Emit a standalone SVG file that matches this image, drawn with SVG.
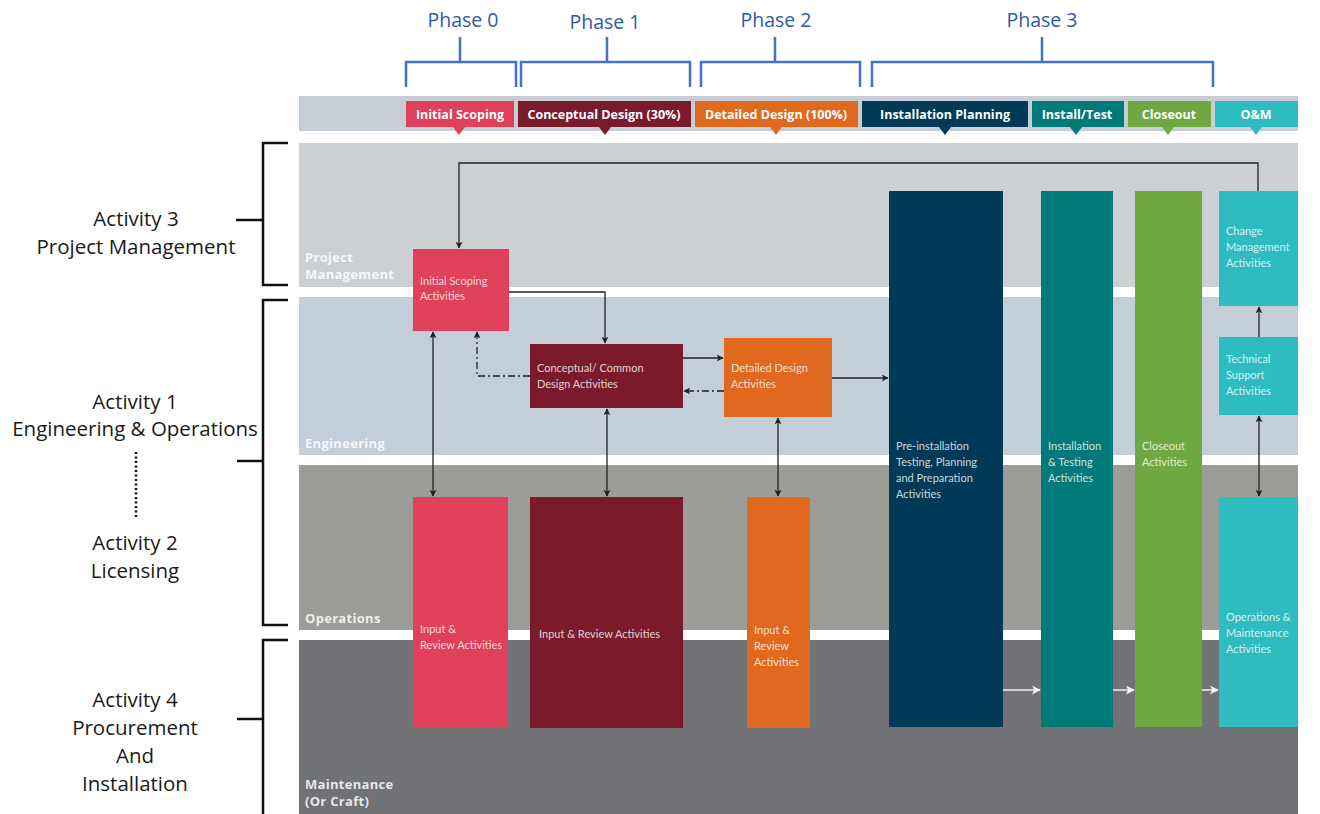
<svg xmlns="http://www.w3.org/2000/svg" width="1320" height="814" viewBox="0 0 1320 814">
<defs>
<style>
.act{font-family:"Open Sans","Liberation Sans",sans-serif;font-size:20.5px;fill:#1a1a1a;text-anchor:middle}
.ph{font-family:"Open Sans","Liberation Sans",sans-serif;font-size:19.5px;fill:#2f5aa8;text-anchor:middle}
.brace{fill:none;stroke:#4472c4;stroke-width:2.5}
.brk{fill:none;stroke:#111;stroke-width:2.5}
.hd{font-family:"Open Sans","Liberation Sans",sans-serif;font-size:12.5px;font-weight:bold;fill:#fff;text-anchor:middle}
.lane{font-family:"Open Sans","Liberation Sans",sans-serif;font-size:13px;font-weight:bold;fill:#fff;fill-opacity:0.85;letter-spacing:0.3px}
.bx{font-family:Lato,"Liberation Sans",sans-serif;font-size:11px;fill:#fff;fill-opacity:0.8}
.cn{fill:none;stroke:#222;stroke-width:1.3}
.dd{stroke-dasharray:7 3 2 3}
.wh{fill:none;stroke:#f2f2f2;stroke-width:1.5}
</style>
<marker id="ah" viewBox="0 0 10 10" refX="9" refY="5" markerWidth="7" markerHeight="7" orient="auto-start-reverse" markerUnits="userSpaceOnUse"><path d="M0,0 L10,5 L0,10 L2.5,5 z" fill="#222"/></marker>
<marker id="aw" viewBox="0 0 10 10" refX="9" refY="5" markerWidth="9" markerHeight="9" orient="auto" markerUnits="userSpaceOnUse"><path d="M0,0 L10,5 L0,10 L2.5,5 z" fill="#f2f2f2"/></marker>
</defs>
<rect width="1320" height="814" fill="#fff"/>

<g id="phases">
<path class="brace" d="M406,87 V62 H516 V87 M460,62 V37"/>
<path class="brace" d="M521,87 V62 H690 V87 M607,62 V37"/>
<path class="brace" d="M701,87 V62 H860 V87 M775,62 V37"/>
<path class="brace" d="M872,87 V62 H1213 V87 M1042,62 V37"/>
<text class="ph" x="463" y="27">Phase 0</text>
<text class="ph" x="605" y="29">Phase 1</text>
<text class="ph" x="776" y="27">Phase 2</text>
<text class="ph" x="1042" y="27">Phase 3</text>
</g>

<g id="lanes">
<rect x="299" y="96" width="999" height="35" fill="#c6cdd5"/>
<rect x="299" y="143" width="999" height="144" fill="#ccd0d4"/>
<rect x="299" y="297" width="999" height="158" fill="#c3ced9"/>
<rect x="299" y="465" width="999" height="165" fill="#9c9c98"/>
<rect x="299" y="640" width="999" height="174" fill="#707276"/>
<text class="lane" x="305" y="262">Project</text>
<text class="lane" x="305" y="279">Management</text>
<text class="lane" x="305" y="448">Engineering</text>
<text class="lane" x="305" y="623">Operations</text>
<text class="lane" x="305" y="789">Maintenance</text>
<text class="lane" x="305" y="806">(Or Craft)</text>
</g>

<g id="headers">
<rect x="406" y="101" width="108" height="26" fill="#e0405a"/><path d="M453,127 L465,127 L459,135 z" fill="#e0405a"/>
<text class="hd" x="460" y="119">Initial Scoping</text>
<rect x="518" y="101" width="173" height="26" fill="#7b1a2d"/><path d="M599,127 L611,127 L605,135 z" fill="#7b1a2d"/>
<text class="hd" x="604" y="119">Conceptual Design (30%)</text>
<rect x="695" y="101" width="163" height="26" fill="#e0681f"/><path d="M770,127 L782,127 L776,135 z" fill="#e0681f"/>
<text class="hd" x="776" y="119">Detailed Design (100%)</text>
<rect x="862" y="101" width="166" height="26" fill="#003a57"/><path d="M939,127 L951,127 L945,135 z" fill="#003a57"/>
<text class="hd" x="945" y="119">Installation Planning</text>
<rect x="1032" y="101" width="92" height="26" fill="#007a78"/><path d="M1070,127 L1082,127 L1076,135 z" fill="#007a78"/>
<text class="hd" x="1077" y="119">Install/Test</text>
<rect x="1128" y="101" width="83" height="26" fill="#6fa840"/><path d="M1162,127 L1174,127 L1168,135 z" fill="#6fa840"/>
<text class="hd" x="1169" y="119">Closeout</text>
<rect x="1215" y="101" width="83" height="26" fill="#2fbcc0"/><path d="M1250,127 L1262,127 L1256,135 z" fill="#2fbcc0"/>
<text class="hd" x="1256" y="119">O&amp;M</text>
</g>

<g id="n-initial"><rect x="413" y="249" width="96" height="82" fill="#e0405a"/>
<text class="bx" x="420" y="285">Initial Scoping</text><text class="bx" x="420" y="300">Activities</text></g>
<g id="n-conceptual"><rect x="530" y="344" width="153" height="64" fill="#7b1a2d"/>
<text class="bx" x="537" y="372">Conceptual/ Common</text><text class="bx" x="537" y="388">Design Activities</text></g>
<g id="n-detailed"><rect x="724" y="338" width="108" height="79" fill="#e0681f"/>
<text class="bx" x="731" y="372">Detailed Design</text><text class="bx" x="731" y="388">Activities</text></g>
<g id="n-input1"><rect x="413" y="497" width="95" height="231" fill="#e0405a"/>
<text class="bx" x="420" y="633">Input &amp;</text><text class="bx" x="420" y="649">Review Activities</text></g>
<g id="n-input2"><rect x="530" y="497" width="153" height="231" fill="#7b1a2d"/>
<text class="bx" x="539" y="638">Input &amp; Review Activities</text></g>
<g id="n-input3"><rect x="747" y="497" width="63" height="231" fill="#e0681f"/>
<text class="bx" x="754" y="634">Input &amp;</text><text class="bx" x="754" y="650">Review</text><text class="bx" x="754" y="666">Activities</text></g>
<g id="n-preinstall"><rect x="889" y="191" width="114" height="536" fill="#003a57"/>
<text class="bx" x="896" y="450">Pre-installation</text><text class="bx" x="896" y="466">Testing, Planning</text><text class="bx" x="896" y="482">and Preparation</text><text class="bx" x="896" y="498">Activities</text></g>
<g id="n-install"><rect x="1041" y="191" width="72" height="536" fill="#007a78"/>
<text class="bx" x="1048" y="450">Installation</text><text class="bx" x="1048" y="466">&amp; Testing</text><text class="bx" x="1048" y="482">Activities</text></g>
<g id="n-closeout"><rect x="1135" y="191" width="67" height="536" fill="#6fa840"/>
<text class="bx" x="1142" y="450">Closeout</text><text class="bx" x="1142" y="466">Activities</text></g>
<g id="n-change"><rect x="1219" y="191" width="79" height="115" fill="#2fbcc0"/>
<text class="bx" x="1226" y="235">Change</text><text class="bx" x="1226" y="251">Management</text><text class="bx" x="1226" y="267">Activities</text></g>
<g id="n-technical"><rect x="1219" y="337" width="79" height="78" fill="#2fbcc0"/>
<text class="bx" x="1226" y="363">Technical</text><text class="bx" x="1226" y="379">Support</text><text class="bx" x="1226" y="395">Activities</text></g>
<g id="n-om"><rect x="1219" y="497" width="79" height="230" fill="#2fbcc0"/>
<text class="bx" x="1226" y="621">Operations &amp;</text><text class="bx" x="1226" y="637">Maintenance</text><text class="bx" x="1226" y="653">Activities</text></g>

<g id="connectors">
<path class="cn" d="M1258,191 V163 H459 V248" marker-end="url(#ah)"/>
<path class="cn" d="M509,292 H605 V343" marker-end="url(#ah)"/>
<path class="cn" d="M433,332 V496" marker-start="url(#ah)" marker-end="url(#ah)"/>
<path class="cn dd" d="M530,376 H477 V332" marker-end="url(#ah)"/>
<path class="cn" d="M607,409 V496" marker-start="url(#ah)" marker-end="url(#ah)"/>
<path class="cn" d="M683,358 H723" marker-end="url(#ah)"/>
<path class="cn dd" d="M724,391 H684" marker-end="url(#ah)"/>
<path class="cn" d="M778,418 V496" marker-start="url(#ah)" marker-end="url(#ah)"/>
<path class="cn" d="M832,378 H888" marker-end="url(#ah)"/>
<path class="cn" d="M1259,337 V307" marker-end="url(#ah)"/>
<path class="cn" d="M1259,416 V496" marker-start="url(#ah)" marker-end="url(#ah)"/>
<path class="wh" d="M1003,690 H1040" marker-end="url(#aw)"/>
<path class="wh" d="M1113,690 H1134" marker-end="url(#aw)"/>
<path class="wh" d="M1202,690 H1218" marker-end="url(#aw)"/>
</g>

<g id="activities">
<path class="brk" d="M288,143 H263 V285 H288 M236,220 H263"/>
<path class="brk" d="M288,300 H263 V625 H288 M237,461 H263"/>
<path class="brk" d="M288,640 H263 V814 M237,719 H263"/>
<text class="act" x="136" y="226">Activity 3</text>
<text class="act" x="136" y="254">Project Management</text>
<text class="act" x="135" y="409">Activity 1</text>
<text class="act" x="135" y="436">Engineering &amp; Operations</text>
<path d="M136,452 V518" fill="none" stroke="#111" stroke-width="2.5" stroke-dasharray="2 2.5"/>
<text class="act" x="135" y="550">Activity 2</text>
<text class="act" x="135" y="578">Licensing</text>
<text class="act" x="135" y="707">Activity 4</text>
<text class="act" x="135" y="735">Procurement</text>
<text class="act" x="135" y="763">And</text>
<text class="act" x="135" y="791">Installation</text>
</g>
</svg>
